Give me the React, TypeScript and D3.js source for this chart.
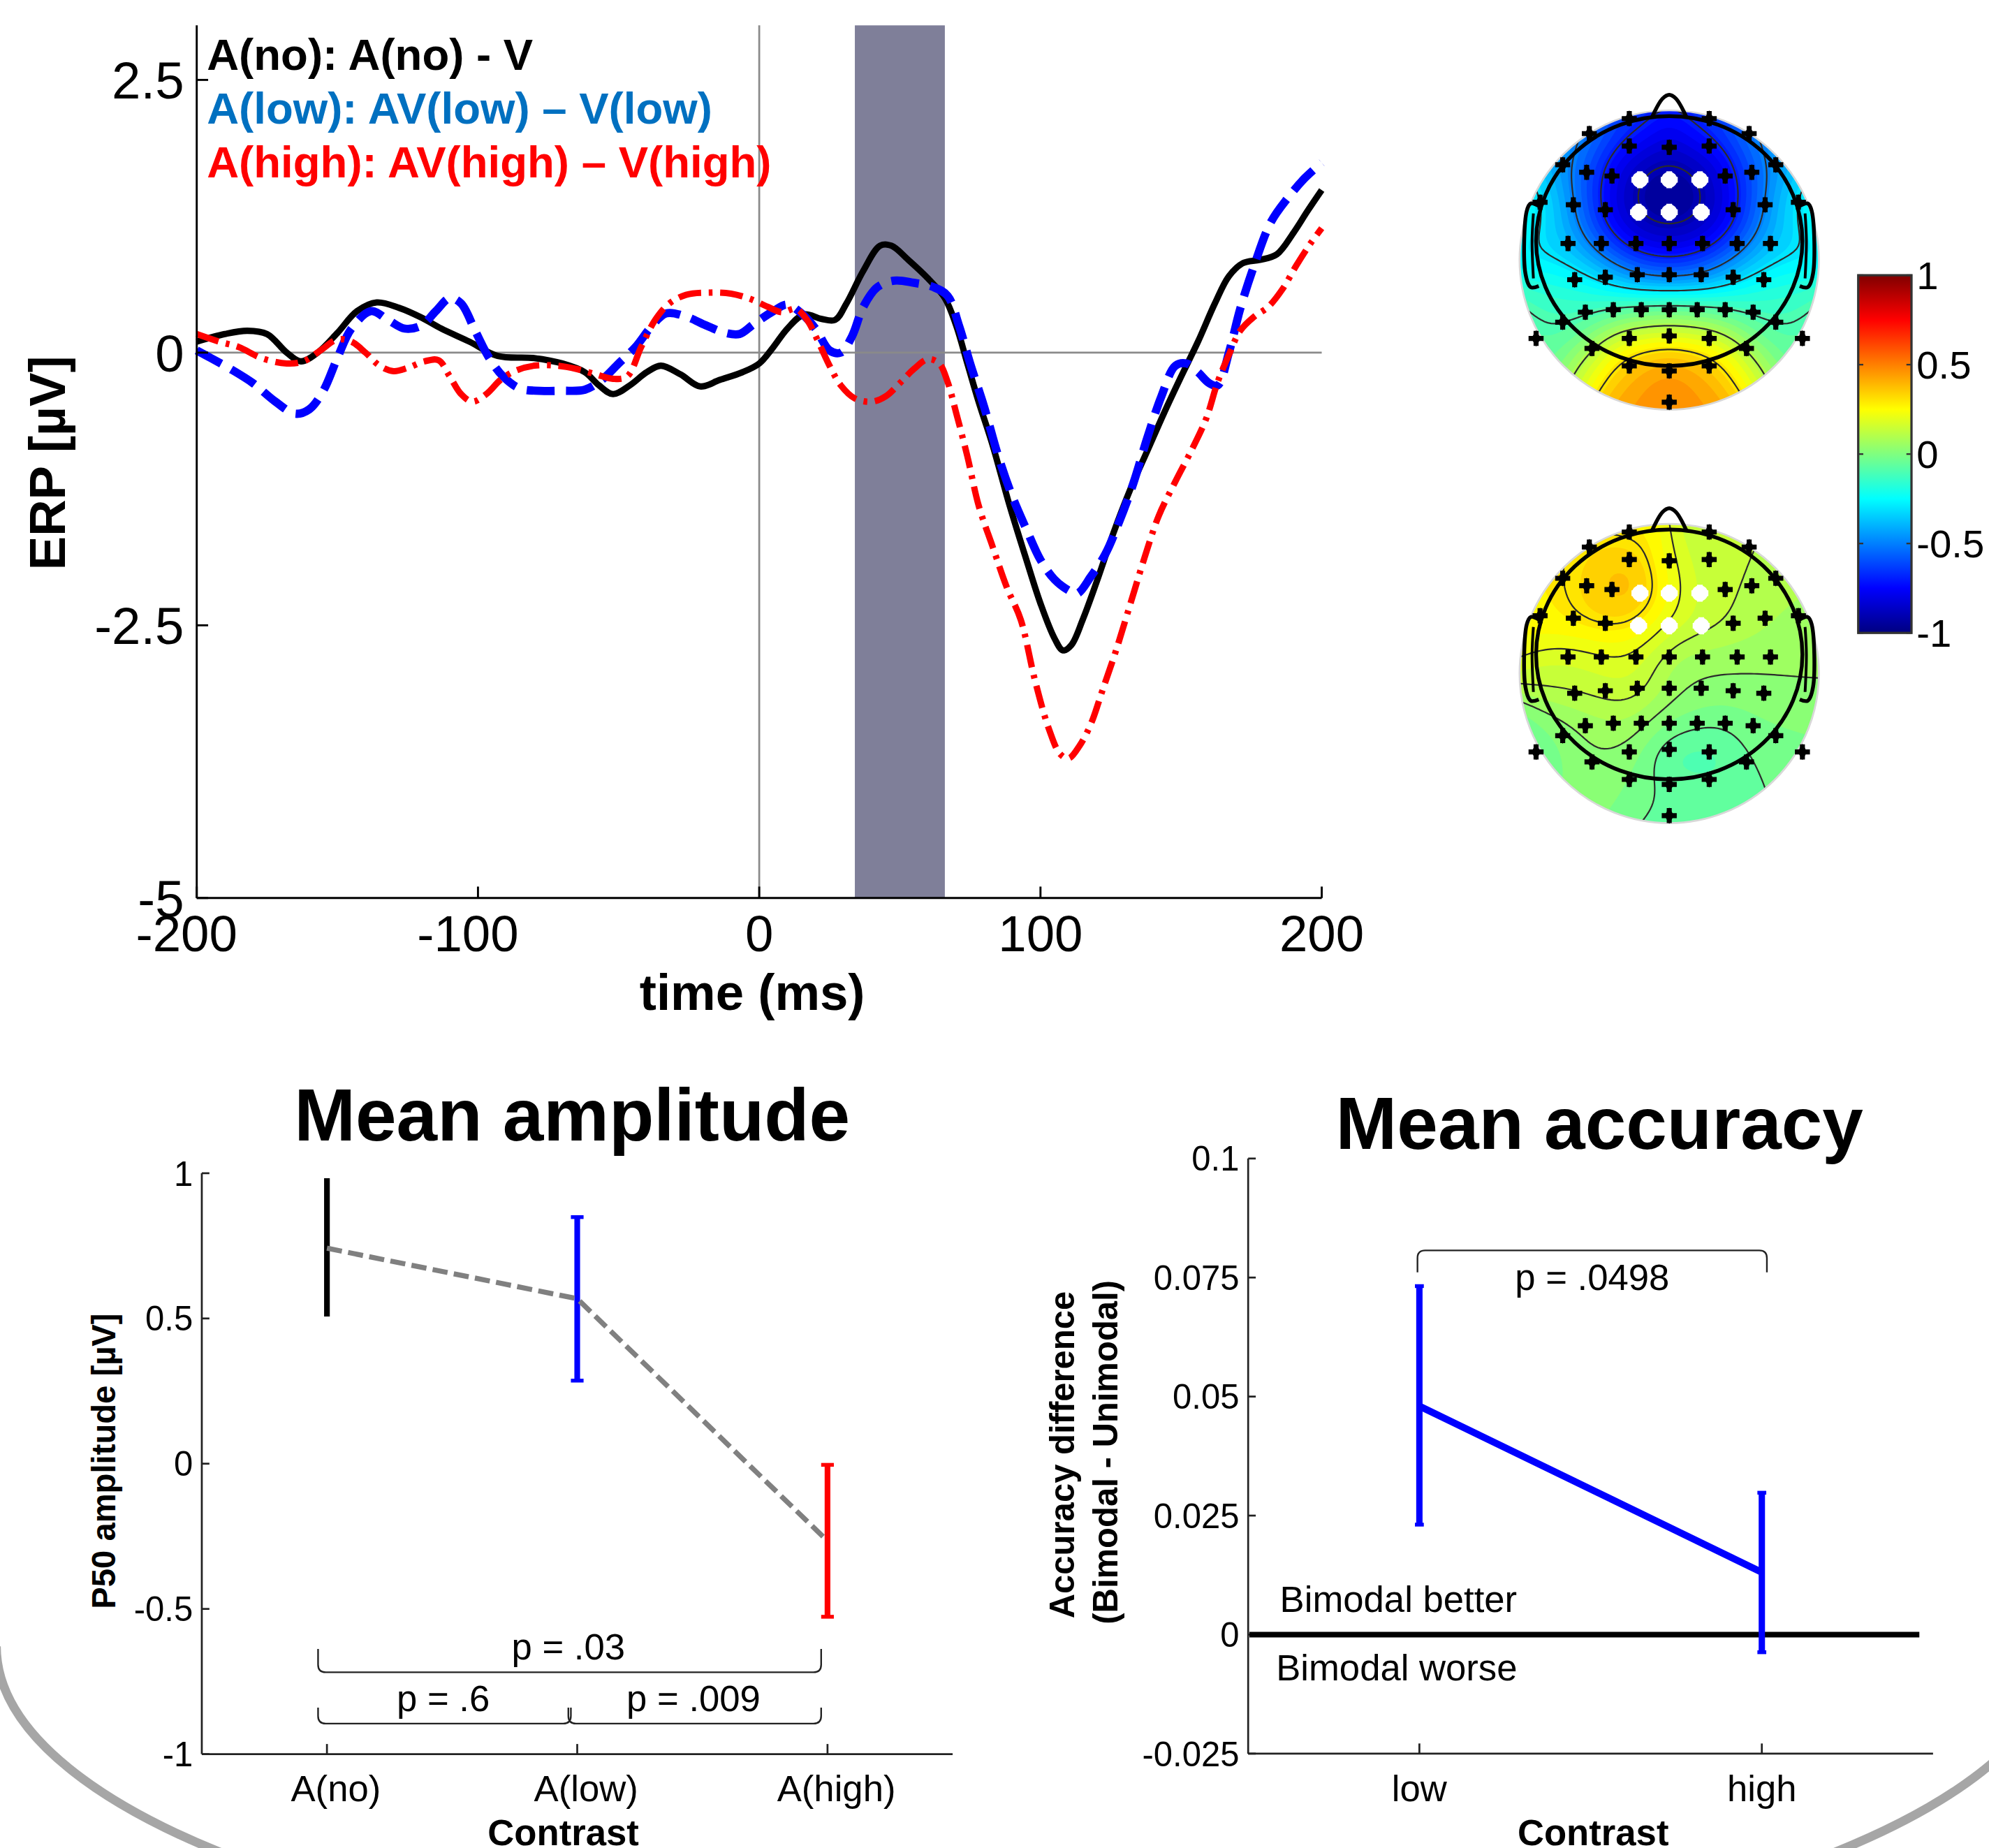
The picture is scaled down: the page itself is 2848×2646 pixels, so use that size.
import React, { useMemo } from "react";
import * as d3 from "d3";

type Pt = [number, number];

const FONT = "'Liberation Sans', Arial, Helvetica, sans-serif";

// ERP difference waves: [time (ms), amplitude (µV)]
const erpNo: Pt[] = [
  [-200, 0.1], [-190, 0.17], [-182, 0.2], [-175, 0.17], [-168, 0.0], [-163, -0.08], [-157, 0.0],
  [-150, 0.18], [-143, 0.38], [-136, 0.46], [-128, 0.41], [-120, 0.32], [-113, 0.22], [-103, 0.1],
  [-93, -0.03], [-80, -0.05], [-70, -0.1], [-62, -0.18], [-57, -0.3], [-52, -0.38], [-46, -0.3],
  [-40, -0.18], [-35, -0.12], [-28, -0.2], [-21, -0.31], [-14, -0.25], [-6, -0.18], [0, -0.1],
  [5, 0.05], [10, 0.22], [16, 0.35], [22, 0.31], [27, 0.3], [31, 0.45], [37, 0.75], [43, 0.98],
  [47, 0.98], [53, 0.85], [60, 0.68], [66, 0.5], [70, 0.25], [74, -0.1], [78, -0.45], [83, -0.85],
  [89, -1.4], [95, -1.9], [100, -2.3], [105, -2.62], [108, -2.73], [111, -2.68], [115, -2.45],
  [120, -2.1], [126, -1.65], [132, -1.25], [138, -0.9], [144, -0.55], [150, -0.22], [156, 0.1],
  [162, 0.45], [167, 0.7], [172, 0.82], [178, 0.85], [184, 0.9], [190, 1.1], [195, 1.3], [200, 1.49],
];
const erpLow: Pt[] = [
  [-200, 0.02], [-195, -0.05], [-188, -0.15], [-180, -0.28], [-172, -0.45], [-165, -0.56],
  [-160, -0.52], [-155, -0.35], [-150, -0.05], [-145, 0.22], [-138, 0.38], [-132, 0.3],
  [-126, 0.22], [-120, 0.25], [-115, 0.38], [-110, 0.5], [-106, 0.45], [-101, 0.2], [-96, -0.05],
  [-91, -0.22], [-85, -0.33], [-78, -0.35], [-70, -0.35], [-62, -0.34], [-56, -0.25], [-50, -0.1],
  [-44, 0.05], [-38, 0.25], [-33, 0.36], [-26, 0.33], [-19, 0.25], [-12, 0.18], [-7, 0.17],
  [-2, 0.26], [5, 0.38], [10, 0.44], [15, 0.36], [20, 0.22], [25, 0.02], [29, 0.0], [33, 0.15],
  [37, 0.42], [42, 0.6], [48, 0.66], [55, 0.64], [62, 0.6], [67, 0.52], [71, 0.25], [75, -0.1],
  [80, -0.5], [85, -0.95], [90, -1.32], [95, -1.62], [100, -1.9], [105, -2.08], [110, -2.18],
  [113, -2.21], [118, -2.05], [123, -1.85], [128, -1.55], [133, -1.2], [138, -0.78], [143, -0.4],
  [148, -0.12], [152, -0.1], [156, -0.18], [160, -0.28], [163, -0.3], [167, 0.0], [171, 0.4],
  [176, 0.8], [182, 1.2], [188, 1.42], [194, 1.6], [200, 1.74],
];
const erpHigh: Pt[] = [
  [-200, 0.17], [-192, 0.1], [-185, 0.05], [-177, -0.05], [-168, -0.1], [-162, -0.08], [-156, 0.02],
  [-150, 0.12], [-145, 0.1], [-140, 0.0], [-135, -0.12], [-130, -0.17], [-125, -0.14], [-119, -0.08],
  [-114, -0.07], [-110, -0.22], [-106, -0.38], [-102, -0.45], [-97, -0.38], [-92, -0.25],
  [-87, -0.17], [-80, -0.12], [-72, -0.12], [-65, -0.15], [-58, -0.2], [-52, -0.24], [-47, -0.22],
  [-42, 0.05], [-37, 0.3], [-32, 0.45], [-26, 0.53], [-18, 0.55], [-10, 0.54], [-3, 0.49],
  [3, 0.42], [8, 0.37], [13, 0.4], [17, 0.3], [21, 0.1], [25, -0.12], [29, -0.3], [34, -0.42],
  [40, -0.45], [45, -0.4], [50, -0.28], [55, -0.15], [60, -0.06], [64, -0.1], [67, -0.27],
  [70, -0.55], [74, -0.95], [78, -1.4], [83, -1.78], [88, -2.15], [93, -2.45], [98, -3.0],
  [103, -3.45], [107, -3.68], [110, -3.72], [114, -3.6], [118, -3.4], [122, -3.1], [127, -2.72],
  [132, -2.3], [137, -1.88], [142, -1.5], [148, -1.18], [154, -0.88], [159, -0.6], [163, -0.27],
  [167, -0.02], [171, 0.2], [176, 0.33], [181, 0.42], [186, 0.58], [191, 0.8], [196, 1.0], [200, 1.14],
];
const p50Window = [34, 66];
const erpTimeTicks = [-200, -100, 0, 100, 200];
const erpAmpTicks = [-5, -2.5, 0, 2.5];
const legendLabels = ["A(no): A(no) - V", "A(low): AV(low) – V(low)", "A(high): AV(high) – V(high)"];

// scalp maps: electrode layout (head radius = 1) and the value at each electrode
const elecX = [
  -0.3, 0.3, -0.6, 0.6, -0.3, 0, 0.3, -0.8, 0.8, -0.62, -0.43, -0.22, 0, 0.23, 0.42, 0.62,
  -0.97, -0.72, -0.48, -0.23, 0, 0.24, 0.48, 0.72, 0.97, -0.76, -0.51, -0.25, 0, 0.25, 0.51, 0.76,
  -0.71, -0.48, -0.24, 0, 0.24, 0.48, 0.71, -0.63, -0.42, -0.21, 0, 0.21, 0.42, 0.63, -0.8, 0.8,
  -1.0, -0.58, -0.3, 0, 0.3, 0.58, 1.0, -0.3, 0, 0.3, 0,
];
const elecY = [
  -0.98, -0.98, -0.86, -0.86, -0.76, -0.75, -0.76, -0.61, -0.61, -0.55, -0.52, -0.49, -0.49, -0.49,
  -0.52, -0.55, -0.31, -0.29, -0.25, -0.23, -0.23, -0.23, -0.25, -0.29, -0.31, 0.02, 0.02, 0.02,
  0.02, 0.02, 0.02, 0.02, 0.31, 0.29, 0.27, 0.27, 0.27, 0.29, 0.31, 0.57, 0.55, 0.55, 0.55, 0.55,
  0.55, 0.57, 0.65, 0.65, 0.78, 0.86, 0.78, 0.76, 0.78, 0.86, 0.78, 1.0, 1.04, 1.0, 1.29,
];
const highlighted = [11, 12, 13, 19, 20, 21];
const topoUpper = [
  -0.62, -0.62, -0.45, -0.45, -0.75, -0.82, -0.75, -0.35, -0.35, -0.62, -0.8, -0.95, -1.0, -0.95,
  -0.8, -0.62, -0.2, -0.45, -0.78, -0.95, -1.0, -0.95, -0.78, -0.45, -0.2, -0.3, -0.62, -0.8, -0.85,
  -0.8, -0.62, -0.3, -0.2, -0.35, -0.55, -0.6, -0.55, -0.35, -0.2, -0.12, -0.08, -0.05, -0.02,
  -0.05, -0.08, -0.12, -0.15, -0.15, -0.05, 0.12, 0.25, 0.3, 0.25, 0.12, -0.05, 0.42, 0.5, 0.42, 0.45,
];
const topoLower = [
  0.25, 0.12, 0.3, 0.12, 0.38, 0.2, 0.12, 0.28, 0.12, 0.32, 0.42, 0.42, 0.22, 0.15, 0.12, 0.12,
  0.25, 0.3, 0.32, 0.3, 0.18, 0.15, 0.12, 0.08, 0.05, 0.15, 0.18, 0.2, 0.05, 0.05, 0.05, 0.05,
  0.12, 0.15, 0.18, 0.05, 0.03, 0.03, 0.03, 0.05, 0.08, 0.08, 0.0, 0.0, -0.05, 0.0, 0.0, 0.0,
  -0.05, 0.03, 0.03, -0.15, -0.15, -0.05, 0.0, 0.0, -0.05, -0.05, -0.05,
];
const upperContours = [-0.9, -0.7, -0.5, -0.3, -0.1, 0.1, 0.3];
const lowerContours = [-0.12, -0.04, 0.04, 0.12, 0.2, 0.3];
const colorbarTicks = [-1, -0.5, 0, 0.5, 1];

// mean P50 amplitude
const ampCategories = ["A(no)", "A(low)", "A(high)"];
const ampMean = [0.742, 0.568, -0.266];
const ampLower = [0.507, 0.286, -0.527];
const ampUpper = [0.983, 0.849, -0.004];
const ampTicks = [-1, -0.5, 0, 0.5, 1];
const ampTests = [
  { a: 1, b: 3, label: "p = .03" },
  { a: 1, b: 2, label: "p = .6" },
  { a: 2, b: 3, label: "p = .009" },
];

// mean accuracy
const accCategories = ["low", "high"];
const accMean = [0.048, 0.0131];
const accLower = [0.0231, -0.0037];
const accUpper = [0.0732, 0.0298];
const accTicks = [-0.025, 0, 0.025, 0.05, 0.075, 0.1];
const accTest = "p = .0498";

const jet = d3
  .scaleLinear<string>()
  .domain([-1, -0.75, -0.25, 0.25, 0.75, 1])
  .range(["#000080", "#0000ff", "#00ffff", "#ffff00", "#ff0000", "#800000"])
  .clamp(true);

function bracketPath(x1: number, x2: number, yEnd: number, yBar: number, r = 6) {
  const s = yEnd > yBar ? 1 : -1;
  return `M${x1},${yEnd} L${x1},${yBar + s * r} Q${x1},${yBar} ${x1 + r},${yBar} L${x2 - r},${yBar} Q${x2},${yBar} ${x2},${yBar + s * r} L${x2},${yEnd}`;
}

function ErpPanel() {
  const x = d3.scaleLinear().domain([-200, 200]).range([155, 1042]);
  const y = d3.scaleLinear().domain([-5, 3]).range([708, 20]);
  const line = d3
    .line<Pt>()
    .x((d) => x(d[0]))
    .y((d) => y(d[1]))
    .curve(d3.curveCatmullRom.alpha(0.5));
  const [bottom, top] = y.range();
  const [left, right] = x.range();
  const legendColors = ["#000000", "#0070c0", "#ff0000"];
  return (
    <g>
      <rect x={x(p50Window[0])} y={top} width={x(p50Window[1]) - x(p50Window[0])} height={bottom - top} fill="#7f7f99" />
      <line x1={x(0)} x2={x(0)} y1={top} y2={bottom} stroke="#8a8a8a" strokeWidth={1.5} />
      <line x1={left} x2={right} y1={y(0)} y2={y(0)} stroke="#8a8a8a" strokeWidth={1.5} />
      <path d={line(erpNo) || ""} fill="none" stroke="#000" strokeWidth={5} strokeLinejoin="round" />
      <path d={line(erpLow) || ""} fill="none" stroke="#0000ff" strokeWidth={6.5} strokeDasharray="22 9" />
      <path d={line(erpHigh) || ""} fill="none" stroke="#ff0000" strokeWidth={5} strokeDasharray="18 6 3 6" />
      <line x1={left} x2={left} y1={top} y2={bottom} stroke="#000" strokeWidth={1.6} />
      <line x1={left} x2={right} y1={bottom} y2={bottom} stroke="#000" strokeWidth={1.6} />
      {erpTimeTicks.map((t) => (
        <g key={t}>
          <line x1={x(t)} x2={x(t)} y1={bottom} y2={bottom - 9} stroke="#000" strokeWidth={1.6} />
          <text x={x(t)} y={750} dx={t < 0 ? -8 : 0} textAnchor="middle" fontSize={40}>
            {t}
          </text>
        </g>
      ))}
      {erpAmpTicks.map((v) => (
        <g key={v}>
          <line x1={left} x2={left + 9} y1={y(v)} y2={y(v)} stroke="#000" strokeWidth={1.6} />
          <text x={145} y={y(v)} dy="0.36em" textAnchor="end" fontSize={41}>
            {v}
          </text>
        </g>
      ))}
      <text x={593} y={796} textAnchor="middle" fontSize={40} fontWeight="bold">
        time (ms)
      </text>
      <text transform="translate(51,365) rotate(-90)" textAnchor="middle" fontSize={40} fontWeight="bold">
        ERP [µV]
      </text>
      {legendLabels.map((s, i) => (
        <text key={s} x={163} y={55 + i * 42.5} fontSize={35} fontWeight="bold" fill={legendColors[i]}>
          {s}
        </text>
      ))}
    </g>
  );
}

const RX = 105;
const RY = 98.5;
const GX0 = -1.3;
const GY0 = -1.15;
const STEP = 0.025;
const GW = 104;
const GH = 108;

function Topo({ cx, cy, values, levels, id }: { cx: number; cy: number; values: number[]; levels: number[]; id: string }) {
  const sx = (nx: number) => cx + nx * RX;
  const sy = (ny: number) => cy + ny * RY;

  const { fills, lines } = useMemo(() => {
    const grid = new Array(GW * GH);
    const sig2 = 2 * 0.18 * 0.18;
    for (let j = 0; j < GH; j++) {
      for (let i = 0; i < GW; i++) {
        const gx = GX0 + (i + 0.5) * STEP;
        const gy = GY0 + (j + 0.5) * STEP;
        let num = 0;
        let den = 0;
        for (let k = 0; k < values.length; k++) {
          const d2 = (gx - elecX[k]) ** 2 + (gy - elecY[k]) ** 2;
          const w = Math.exp(-d2 / sig2) + 1e-300;
          num += w * values[k];
          den += w;
        }
        grid[j * GW + i] = num / den;
      }
    }
    const proj = d3.geoTransform({
      point(px: number, py: number) {
        (this as any).stream.point(cx + (GX0 + px * STEP) * RX, cy + (GY0 + py * STEP) * RY);
      },
    });
    const path = d3.geoPath(proj);
    const fillLevels = d3.range(-1.2, 1.05, 0.04);
    const fillPolys = d3.contours().size([GW, GH]).thresholds(fillLevels)(grid);
    const linePolys = d3.contours().size([GW, GH]).thresholds(levels)(grid);
    return {
      fills: fillPolys.map((c) => ({ d: path(c as any) || "", color: jet(c.value + 0.02) })),
      lines: linePolys.map((c) => path(c as any) || ""),
    };
  }, [cx, cy, values, levels]);

  const line = d3
    .line<Pt>()
    .x((d) => sx(d[0]))
    .y((d) => sy(d[1]))
    .curve(d3.curveCatmullRom);
  const nose: Pt[] = [[-0.13, -0.99], [-0.05, -1.14], [0, -1.17], [0.05, -1.14], [0.13, -0.99]];
  const ear: Pt[] = [[-0.98, -0.28], [-1.04, -0.3], [-1.07, -0.24], [-1.08, 0.26], [-1.04, 0.37], [-0.98, 0.36]];
  const earInner: Pt[] = [[-1.02, -0.22], [-1.03, 0.0], [-1.02, 0.3]];
  const mirror = (p: Pt[]) => p.map(([a, b]) => [-a, b] as Pt);
  const cross = d3.symbol().type(d3.symbolCross).size(78)() || "";
  const diamond = d3.symbol().type(d3.symbolDiamond).size(48)() || "";
  const crossBig = d3.symbol().type(d3.symbolCross).size(100)() || "";
  const diskR = 118;
  const diskCy = cy + 15;

  return (
    <g>
      <defs>
        <clipPath id={`disk-${id}`}>
          <circle cx={cx} cy={diskCy} r={diskR} />
        </clipPath>
      </defs>
      <g clipPath={`url(#disk-${id})`}>
        {fills.map((f, i) => (
          <path key={i} d={f.d} fill={f.color} stroke="none" />
        ))}
        {lines.map((d, i) => (
          <path key={i} d={d} fill="none" stroke="#2b2b2b" strokeWidth={1.2} />
        ))}
      </g>
      <circle cx={cx} cy={diskCy} r={diskR} fill="none" stroke="#d8d8d8" strokeWidth={1.5} />
      <ellipse cx={cx} cy={cy} rx={RX} ry={RY} fill="none" stroke="#000" strokeWidth={3} />
      <path d={line(nose) || ""} fill="none" stroke="#000" strokeWidth={3} />
      <path d={line(ear) || ""} fill="none" stroke="#000" strokeWidth={3} />
      <path d={line(mirror(ear)) || ""} fill="none" stroke="#000" strokeWidth={3} />
      <path d={line(earInner) || ""} fill="none" stroke="#000" strokeWidth={2.2} />
      <path d={line(mirror(earInner)) || ""} fill="none" stroke="#000" strokeWidth={2.2} />
      {elecX.map((ex, k) =>
        highlighted.includes(k) ? (
          <g key={k} transform={`translate(${sx(ex)},${sy(elecY[k])})`}>
            <path d={crossBig} fill="#fff" />
            <circle r={6.3} fill="#fff" />
          </g>
        ) : (
          <g key={k} transform={`translate(${sx(ex)},${sy(elecY[k])})`} fill="#000">
            <path d={cross} />
            <path d={diamond} />
          </g>
        )
      )}
    </g>
  );
}

function Colorbar() {
  const y = d3.scaleLinear().domain([-1, 1]).range([499, 217]);
  const x0 = 1465;
  const x1 = 1507;
  const stops = jet.domain();
  return (
    <g>
      <defs>
        <linearGradient id="jetbar" x1="0" y1="1" x2="0" y2="0">
          {stops.map((v) => (
            <stop key={v} offset={(v + 1) / 2} stopColor={jet(v)} />
          ))}
        </linearGradient>
      </defs>
      <rect x={x0} y={y(1)} width={x1 - x0} height={y(-1) - y(1)} fill="url(#jetbar)" stroke="#333" strokeWidth={1.8} />
      {colorbarTicks.map((v) => (
        <g key={v}>
          <line x1={x0} x2={x0 + 4} y1={y(v)} y2={y(v)} stroke="#333" strokeWidth={1.3} />
          <line x1={x1 - 4} x2={x1} y1={y(v)} y2={y(v)} stroke="#333" strokeWidth={1.3} />
          <text x={1511} y={y(v)} dy="0.36em" fontSize={31}>
            {v}
          </text>
        </g>
      ))}
    </g>
  );
}

function AmplitudePanel() {
  const x = d3.scaleLinear().domain([0.5, 3.5]).range([159, 751]);
  const y = d3.scaleLinear().domain([-1, 1]).range([1383, 925]);
  const colors = ["#000000", "#0000ff", "#ff0000"];
  const caps = [0, 5, 5];
  const meanLine = d3
    .line<number>()
    .x((_, i) => x(i + 1))
    .y((d) => y(d));
  const [left, right] = x.range();
  const [bottom, top] = y.range();
  return (
    <g>
      <text x={451} y={899} textAnchor="middle" fontSize={58} fontWeight="bold">
        Mean amplitude
      </text>
      <line x1={left} x2={left} y1={top} y2={bottom} stroke="#222" strokeWidth={1.5} />
      <line x1={left} x2={right} y1={bottom} y2={bottom} stroke="#222" strokeWidth={1.5} />
      {ampTicks.map((v) => (
        <g key={v}>
          <line x1={left} x2={left + 6} y1={y(v)} y2={y(v)} stroke="#222" strokeWidth={1.5} />
          <text x={152} y={y(v)} dy="0.36em" textAnchor="end" fontSize={27}>
            {v}
          </text>
        </g>
      ))}
      {ampCategories.map((c, i) => (
        <g key={c}>
          <line x1={x(i + 1)} x2={x(i + 1)} y1={bottom} y2={bottom - 8} stroke="#222" strokeWidth={1.5} />
          <text x={x(i + 1) + 7} y={1420} textAnchor="middle" fontSize={29}>
            {c}
          </text>
        </g>
      ))}
      {ampMean.map((_, i) => (
        <g key={i} stroke={colors[i]} strokeWidth={4.5}>
          <line x1={x(i + 1)} x2={x(i + 1)} y1={y(ampUpper[i])} y2={y(ampLower[i])} />
          {caps[i] > 0 && (
            <>
              <line x1={x(i + 1) - caps[i]} x2={x(i + 1) + caps[i]} y1={y(ampUpper[i])} y2={y(ampUpper[i])} strokeWidth={3} />
              <line x1={x(i + 1) - caps[i]} x2={x(i + 1) + caps[i]} y1={y(ampLower[i])} y2={y(ampLower[i])} strokeWidth={3} />
            </>
          )}
        </g>
      ))}
      <path d={meanLine(ampMean) || ""} fill="none" stroke="#808080" strokeWidth={4} strokeDasharray="12 5" />
      {ampTests.map((t) => {
        const wide = t.b - t.a > 1;
        const yEnd = y(wide ? -0.638 : -0.84);
        const yBar = y(wide ? -0.718 : -0.895);
        const bx1 = x(t.a) - 7;
        const bx2 = x(t.b) - 5;
        return (
          <g key={t.label}>
            <path d={bracketPath(bx1, bx2, yEnd, yBar)} fill="none" stroke="#222" strokeWidth={1.3} />
            <text x={(bx1 + bx2) / 2 - 1} y={yBar - 10} textAnchor="middle" fontSize={29}>
              {t.label}
            </text>
          </g>
        );
      })}
      <text transform="translate(91,1152) rotate(-90)" textAnchor="middle" fontSize={26} fontWeight="bold">
        P50 amplitude [µV]
      </text>
      <text x={444} y={1455} textAnchor="middle" fontSize={29} fontWeight="bold">
        Contrast
      </text>
    </g>
  );
}

function AccuracyPanel() {
  const x = d3.scaleLinear().domain([0.5, 2.5]).range([984, 1524]);
  const y = d3.scaleLinear().domain([-0.025, 0.1]).range([1382.6, 913.4]);
  const meanLine = d3
    .line<number>()
    .x((_, i) => x(i + 1))
    .y((d) => y(d));
  const [left, right] = x.range();
  const [bottom, top] = y.range();
  const bx1 = x(1) - 1.5;
  const bx2 = x(2) + 4;
  return (
    <g>
      <text x={1261} y={906} textAnchor="middle" fontSize={58} fontWeight="bold">
        Mean accuracy
      </text>
      <line x1={left} x2={left} y1={top} y2={bottom} stroke="#222" strokeWidth={1.5} />
      <line x1={left} x2={right} y1={bottom} y2={bottom} stroke="#222" strokeWidth={1.5} />
      {accTicks.map((v) => (
        <g key={v}>
          <line x1={left} x2={left + 6} y1={y(v)} y2={y(v)} stroke="#222" strokeWidth={1.5} />
          <text x={977} y={y(v)} dy="0.36em" textAnchor="end" fontSize={27}>
            {v}
          </text>
        </g>
      ))}
      {accCategories.map((c, i) => (
        <g key={c}>
          <line x1={x(i + 1)} x2={x(i + 1)} y1={bottom} y2={bottom - 8} stroke="#222" strokeWidth={1.5} />
          <text x={x(i + 1)} y={1420} textAnchor="middle" fontSize={29}>
            {c}
          </text>
        </g>
      ))}
      <line x1={x(0.5) + 1} x2={x(2.46)} y1={y(0)} y2={y(0)} stroke="#000" strokeWidth={4.5} />
      <text x={1009} y={1271} fontSize={29}>
        Bimodal better
      </text>
      <text x={1006} y={1325} fontSize={29}>
        Bimodal worse
      </text>
      <path d={meanLine(accMean) || ""} fill="none" stroke="#0000ff" strokeWidth={5.5} />
      {accMean.map((_, i) => (
        <g key={i} stroke="#0000ff">
          <line x1={x(i + 1)} x2={x(i + 1)} y1={y(accUpper[i])} y2={y(accLower[i])} strokeWidth={5} />
          <line x1={x(i + 1) - 3.5} x2={x(i + 1) + 3.5} y1={y(accUpper[i])} y2={y(accUpper[i])} strokeWidth={3} />
          <line x1={x(i + 1) - 3.5} x2={x(i + 1) + 3.5} y1={y(accLower[i])} y2={y(accLower[i])} strokeWidth={3} />
        </g>
      ))}
      <path d={bracketPath(bx1, bx2, y(0.0761), y(0.0807))} fill="none" stroke="#222" strokeWidth={1.3} />
      <text x={(bx1 + bx2) / 2} y={1017} textAnchor="middle" fontSize={29}>
        {accTest}
      </text>
      <text transform="translate(847,1147) rotate(-90)" textAnchor="middle" fontSize={27} fontWeight="bold">
        Accuracy difference
      </text>
      <text transform="translate(881,1145) rotate(-90)" textAnchor="middle" fontSize={27} fontWeight="bold">
        (Bimodal - Unimodal)
      </text>
      <text x={1256} y={1455} textAnchor="middle" fontSize={29} fontWeight="bold">
        Contrast
      </text>
    </g>
  );
}

export default function App() {
  return (
    <svg
      width={2848}
      height={2646}
      viewBox="0 0 1568 1457"
      style={{ position: "absolute", left: 0, top: 0, background: "#fff" }}
      fontFamily={FONT}
    >
      <rect x={0} y={0} width={1568} height={1457} fill="#fff" />
      <path d="M -3 1298 A 813 261 0 0 0 1623 1298" fill="none" stroke="#a6a6a6" strokeWidth={7} />
      <ErpPanel />
      <Topo cx={1316} cy={190} values={topoUpper} levels={upperContours} id="upper" />
      <Topo cx={1316} cy={516} values={topoLower} levels={lowerContours} id="lower" />
      <Colorbar />
      <AmplitudePanel />
      <AccuracyPanel />
    </svg>
  );
}
